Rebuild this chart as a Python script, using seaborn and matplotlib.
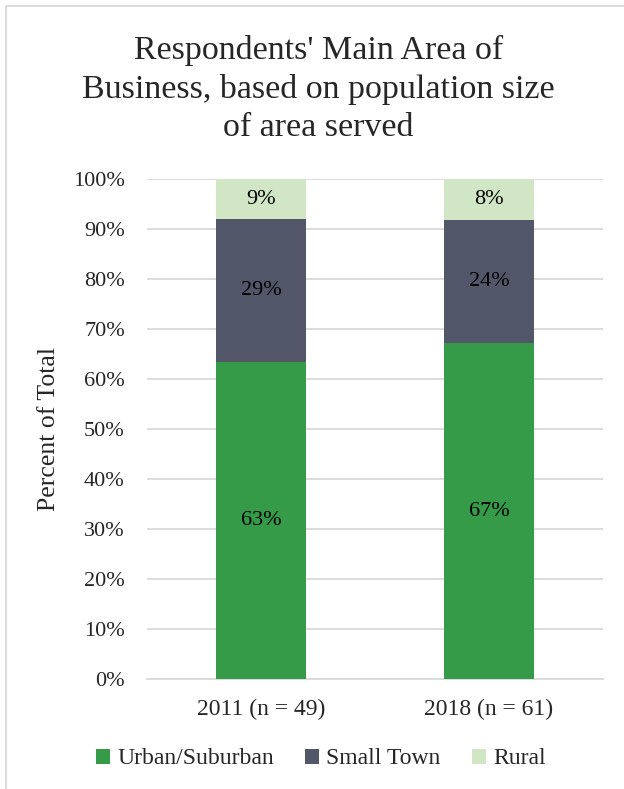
import matplotlib
matplotlib.use("Agg")
import matplotlib.pyplot as plt
import seaborn as sns
from matplotlib.patches import Patch, Rectangle

categories = ["2011 (n = 49)", "2018 (n = 61)"]
series_names = ["Urban/Suburban", "Small Town", "Rural"]
urban = [63.3, 67.2]
small_town = [28.6, 24.6]
rural = [8.1, 8.2]
urban_labels = ["63%", "67%"]
small_labels = ["29%", "24%"]
rural_labels = ["9%", "8%"]
colors = ["#359B48", "#515669", "#D0E6C5"]

sns.set_theme(style="white")
plt.rcParams['font.family'] = ['Liberation Serif', 'DejaVu Serif']
SERIF = ['Liberation Serif', 'DejaVu Serif']

fig = plt.figure(figsize=(6.24, 7.89), dpi=100)
ax = fig.add_axes([147/624, 1 - 679/789, 456/624, 500/789])

bottoms = [0, 0]
series = [urban, small_town, rural]
labels = [urban_labels, small_labels, rural_labels]
for vals, col, labs in zip(series, colors, labels):
    sns.barplot(x=categories, y=vals, bottom=bottoms, color=col, width=0.395,
                ax=ax, saturation=1, zorder=3, linewidth=0, edgecolor="none")
    for i, (v, l) in enumerate(zip(vals, labs)):
        ax.text(i, bottoms[i] + v / 2, l, ha="center", va="center",
                fontsize=16, color="black", zorder=5, family=SERIF)
    bottoms = [b + v for b, v in zip(bottoms, vals)]

ax.set_xlim(-0.5, 1.5)
ax.set_ylim(0, 100)
ax.set_yticks(range(0, 101, 10))
ax.set_yticklabels([f"{t}%" for t in range(0, 101, 10)], fontsize=16, family=SERIF)
ax.set_xticks([0, 1])
ax.set_xticklabels(categories, fontsize=17, family=SERIF)
ax.tick_params(axis="x", length=0, pad=14)
ax.tick_params(axis="y", length=0, pad=16)
ax.yaxis.grid(True, color="#D9D9D9", linewidth=1.3, zorder=0)
ax.set_axisbelow(True)
for s in ["top", "right", "left"]:
    ax.spines[s].set_visible(False)
ax.spines["bottom"].set_color("#D9D9D9")
ax.spines["bottom"].set_linewidth(1.3)
ax.set_ylabel("Percent of Total", fontsize=18.5, family=SERIF)
ax.yaxis.set_label_coords(-(147 - 60) / 456, 0.5)
ax.set_xlabel("")

fig.text(318.5/624, 1 - 89/789, "Respondents' Main Area of\nBusiness, based on population size\nof area served",
         ha="center", va="center", fontsize=24.5, linespacing=1.33, family=SERIF)

handles = [Patch(facecolor=c, edgecolor="none") for c in colors]
fig.legend(handles, series_names, loc="center", bbox_to_anchor=(321/624, 1 - 759/789),
           ncol=3, frameon=False, prop={'family': SERIF, 'size': 17},
           handlelength=0.6, handleheight=0.6, handletextpad=0.3, columnspacing=1.33)

fig.patches.append(Rectangle((6/624, -0.1), 2.0, 1 - 6/789 + 0.1, transform=fig.transFigure,
                             fill=False, edgecolor="#D9D9D9", linewidth=1.3))

fig.savefig("out.png", dpi=100)
